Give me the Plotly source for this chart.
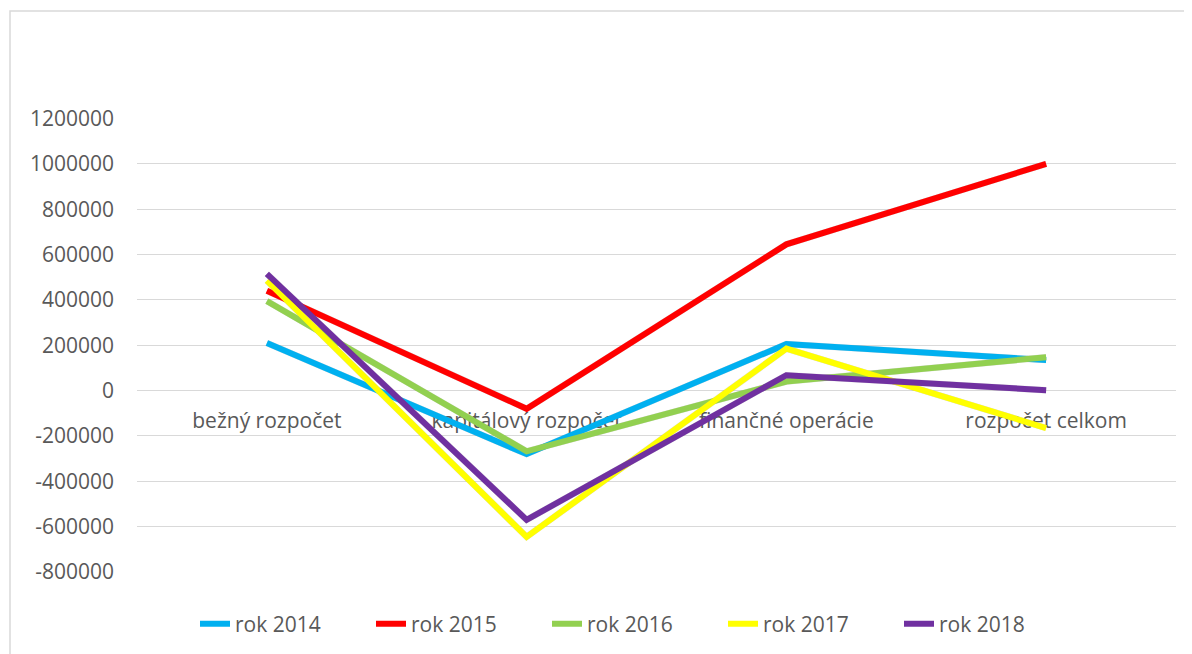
import plotly.graph_objects as go

categories = ["bežný rozpočet", "kapitálový rozpočet", "finančné operácie", "rozpočet celkom"]
series_names = ["rok 2014", "rok 2015", "rok 2016", "rok 2017", "rok 2018"]
rok_2014 = [210000, -280000, 205000, 135000]
rok_2015 = [440000, -80000, 645000, 1000000]
rok_2016 = [395000, -268000, 40000, 147000]
rok_2017 = [485000, -645000, 185000, -165000]
rok_2018 = [515000, -570000, 68000, 2000]
colors = ["#00B0F0", "#FF0000", "#92D050", "#FFFF00", "#7030A0"]
y_ticks = [-800000, -600000, -400000, -200000, 0, 200000, 400000, 600000, 800000, 1000000, 1200000]

all_series = [rok_2014, rok_2015, rok_2016, rok_2017, rok_2018]

# the page body adds an 8px margin, so the figure is laid out 8px up/left
W, H = 1184, 646
L, R, T, B = 127, 16, 108, 82
pw = W - L - R
ph = H - T - B
sx = 2.0 / pw
sy = 2.5 / ph

fig = go.Figure()
# soft shadows (same data) on base axes x/y, shifted slightly right/down
for name, vals in zip(series_names, all_series):
    fig.add_trace(go.Scatter(x=categories, y=vals, mode="lines", xaxis="x", yaxis="y",
                             line=dict(color="rgba(0,0,0,0.13)", width=6.5),
                             showlegend=False, hoverinfo="skip"))
# visible series on overlay axes x2/y2 (drawn on top)
for name, vals, c in zip(series_names, all_series, colors):
    fig.add_trace(go.Scatter(x=categories, y=vals, mode="lines", name=name,
                             xaxis="x2", yaxis="y2",
                             line=dict(color=c, width=6)))

font = dict(family="Open Sans", size=21, color="#595959")
fig.update_layout(
    width=W, height=H,
    margin=dict(l=L, r=R, t=T, b=B, autoexpand=False),
    paper_bgcolor="white", plot_bgcolor="white",
    font=font,
    showlegend=True,
    legend=dict(orientation="h", x=(187 - L) / pw, xanchor="left", y=(H - B - 616) / ph,
                yanchor="middle", entrywidth=131, entrywidthmode="pixels",
                font=font, bgcolor="rgba(0,0,0,0)"),
    xaxis=dict(type="category", domain=[sx, 1], range=[-0.5, 3.5], visible=False,
               anchor="y"),
    yaxis=dict(domain=[0, 1 - sy], range=[-800000, 1200000], visible=False, anchor="x"),
    xaxis2=dict(type="category", domain=[0, 1 - sx], range=[-0.5, 3.5], showgrid=False,
                showline=False, zeroline=False, ticks="", anchor="free", overlaying="x",
                position=sy + (1 - sy) * 0.4, layer="below traces",
                ticklabelstandoff=18, tickfont=font),
    yaxis2=dict(domain=[sy, 1], range=[-800000, 1200000], tickvals=y_ticks,
                ticktext=[str(v) for v in y_ticks],
                showgrid=True, gridcolor="#D9D9D9", gridwidth=1.2, zeroline=False,
                showline=False, ticks="", ticklabelstandoff=22, tickfont=font,
                overlaying="y", anchor="x2", side="left"),
    shapes=[dict(type="rect", xref="paper", yref="paper",
                 x0=(2 - L) / pw, x1=(W + 20 - L) / pw,
                 y0=(H - B - (H + 20)) / ph, y1=(H - B - 3) / ph,
                 line=dict(color="#D9D9D9", width=1.5), layer="below")],
)

fig.write_html("out.html")
